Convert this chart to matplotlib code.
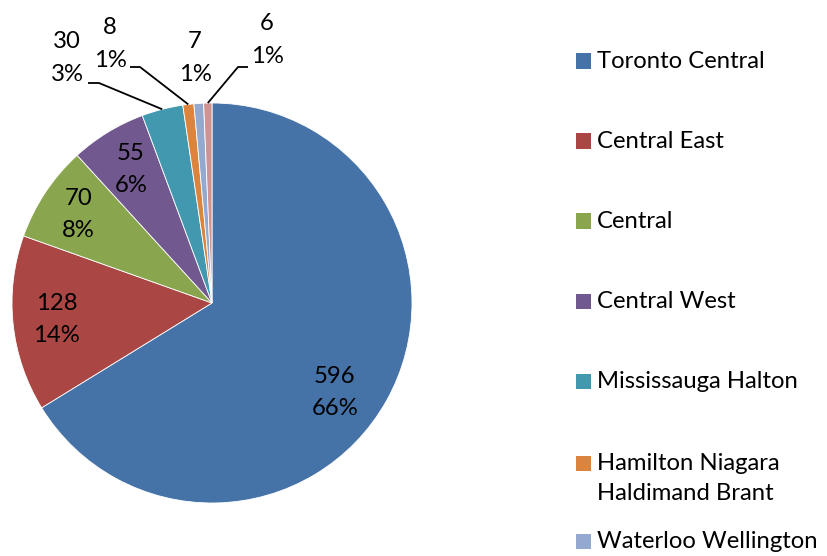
import matplotlib.pyplot as plt
from matplotlib.patches import Rectangle
import numpy as np

plt.rcParams['font.family'] = ['Lato', 'DejaVu Sans']

# ---------------- DATA ---------------- #
regions = ["Toronto Central", "Central East", "Central", "Central West",
           "Mississauga Halton", "Hamilton Niagara\nHaldimand Brant",
           "Waterloo Wellington", "Other"]
counts = [596, 128, 70, 55, 30, 8, 7, 6]
percents = ["66%", "14%", "8%", "6%", "3%", "1%", "1%", "1%"]
colors = ["#4572A7", "#AA4643", "#89A54E", "#71588F",
          "#4198AF", "#DB843D", "#93A9CF", "#D19392"]
legend_count = 7   # last entry is cut off in the original

W, H = 828, 556
fig = plt.figure(figsize=(W / 100, H / 100), dpi=100)

# pie axes: centre (212, 303), radius 200 px
cx, cy, r = 212, 303, 200
ax = fig.add_axes([(cx - r) / W, 1 - (cy + r) / H, 2 * r / W, 2 * r / H])
wedges, _ = ax.pie(counts, colors=colors, startangle=90, counterclock=False,
                   radius=1, wedgeprops=dict(edgecolor="white", linewidth=0.6))
ax.set_xlim(-1, 1)
ax.set_ylim(-1, 1)
ax.set_aspect("equal")
ax.axis("off")

fs = 17.2
lsp = 1.65

# inside labels
inside_r = [0.76, 0.78, 0.8, 0.78]
inside_shift = [-7, 0, 0, 0]   # degrees
for i in range(4):
    w = wedges[i]
    mid = np.deg2rad((w.theta1 + w.theta2) / 2 + inside_shift[i])
    rr = inside_r[i]
    ax.text(rr * np.cos(mid), rr * np.sin(mid), f"{counts[i]}\n{percents[i]}",
            ha="center", va="center", fontsize=fs, linespacing=lsp, color="#000000")

# outside labels (pixel positions of label centres and leader elbows)
out_pos = {4: (67, 58), 5: (110, 44), 6: (195, 58), 7: (267, 40)}
elbows = {4: [(88, 83), (99, 83)], 5: [(130, 67), (140, 67)], 7: [(248, 67), (238, 67)]}


def px2data(x, y):
    return (x - cx) / r, (cy - y) / r


for i, (x, y) in out_pos.items():
    tx, ty = px2data(x, y)
    ax.text(tx, ty, f"{counts[i]}\n{percents[i]}", ha="center", va="center",
            fontsize=fs, linespacing=lsp, clip_on=False)
    if i in elbows:
        w = wedges[i]
        mid = np.deg2rad((w.theta1 + w.theta2) / 2)
        ex, ey = 1.0 * np.cos(mid), 1.0 * np.sin(mid)
        (x0, y0), (x1, y1) = [px2data(*p) for p in elbows[i]]
        ax.plot([x0, x1, ex], [y0, y1, ey], color="black", lw=1.3,
                clip_on=False, solid_capstyle="butt")

# legend
ys = [61, 141, 221, 301, 381, 463, 541]
for i in range(legend_count):
    y = ys[i]
    fig.patches.append(Rectangle((576 / W, 1 - (y + 7.5) / H), 15 / W, 15 / H,
                                 transform=fig.transFigure, facecolor=colors[i],
                                 edgecolor="none"))
    fig.text(597 / W, 1 - (y - 10.5) / H, regions[i], ha="left", va="top",
             fontsize=fs, linespacing=1.55)

fig.savefig("out.png", dpi=100, facecolor="white")
